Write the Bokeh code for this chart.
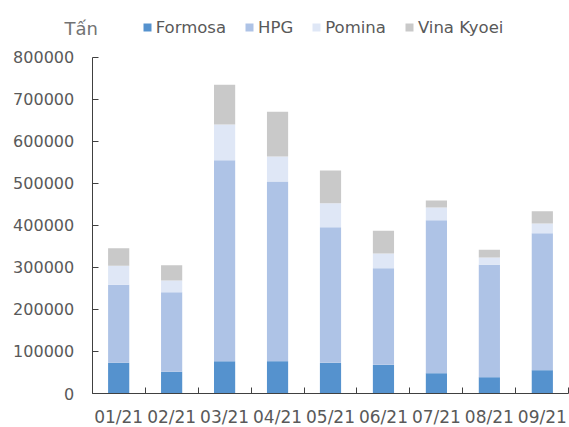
from bokeh.plotting import figure
from bokeh.models import (ColumnDataSource, Range1d, FixedTicker, NumeralTickFormatter,
                          Legend, LegendItem, Label, LinearAxis)
from bokeh.embed import file_html
from bokeh.resources import INLINE

months = ["01/21", "02/21", "03/21", "04/21", "05/21", "06/21", "07/21", "08/21", "09/21"]
formosa = [73000, 51600, 76900, 76900, 73000, 68200, 48300, 38800, 55500]
hpg = [185500, 189400, 477900, 427300, 322500, 229800, 363800, 267200, 325700]
pomina = [45200, 27700, 84900, 59400, 57100, 35000, 30200, 17400, 23100]
vina_kyoei = [41900, 36400, 94400, 106300, 77700, 53900, 16700, 18300, 29200]
series_names = ["Formosa", "HPG", "Pomina", "Vina Kyoei"]
y_ticks = [0, 100000, 200000, 300000, 400000, 500000, 600000, 700000, 800000]
unit_label = "Tấn"

colors = ["#5592CE", "#AEC3E6", "#DFE7F6", "#C9C9C9"]
FONT = "DejaVu Sans"
TXT = "#595959"
AX = "#404040"

W, H = 569, 427
n = len(months)
xpos = [i + 1 for i in range(n)]
src = ColumnDataSource(dict(x=xpos, Formosa=formosa, HPG=hpg, Pomina=pomina,
                            **{"Vina Kyoei": vina_kyoei}))

# frame fills the whole canvas; axes are pinned inside it with fixed_location
px_cat = (568.3 - 91.7) / n
px_val = (393 - 56.6) / 800000
x0 = 0.5 - 91.7 / px_cat
x1 = n + 0.5 + (W - 568.3) / px_cat
y1 = 393 / px_val
y0 = -(H - 393) / px_val

p = figure(width=W, height=H, output_backend="svg", toolbar_location=None,
           x_range=Range1d(x0, x1), y_range=Range1d(y0, y1),
           x_axis_type=None, y_axis_type=None, min_border=0,
           min_border_left=0, min_border_right=0, min_border_top=0, min_border_bottom=0)
p.outline_line_color = None
p.background_fill_color = "white"
p.border_fill_color = "white"

renderers = p.vbar_stack(series_names, x="x", width=0.4, source=src, color=colors,
                         line_color=None)

ya = LinearAxis(fixed_location=0.5, bounds=(0, 800000))
ya.ticker = FixedTicker(ticks=y_ticks)
ya.formatter = NumeralTickFormatter(format="0")
ya.major_tick_in = 6
ya.major_tick_out = 0
ya.minor_tick_line_color = None
ya.axis_line_color = AX
ya.major_tick_line_color = AX
ya.major_label_standoff = 18
ya.major_label_text_font = FONT
ya.major_label_text_font_size = "16px"
ya.major_label_text_color = TXT
p.add_layout(ya, "left")

xa = LinearAxis(fixed_location=0, bounds=(0.5, n + 0.5))
xa.ticker = FixedTicker(ticks=xpos, minor_ticks=[x - 0.5 for x in xpos] + [n + 0.5])
xa.major_label_overrides = {x: m for x, m in zip(xpos, months)}
xa.major_tick_line_color = None
xa.minor_tick_in = 6
xa.minor_tick_out = 0
xa.minor_tick_line_color = AX
xa.axis_line_color = AX
xa.major_label_standoff = 7
xa.major_label_text_font = FONT
xa.major_label_text_font_size = "17px"
xa.major_label_text_color = TXT
p.add_layout(xa, "below")

legend = Legend(items=[LegendItem(label=s, renderers=[r]) for s, r in zip(series_names, renderers)],
                orientation="horizontal", location=(141.7, H - 17 - 20),
                glyph_width=10, glyph_height=10, label_standoff=4, spacing=18,
                padding=0, margin=0, border_line_color=None, background_fill_alpha=0,
                label_text_font=FONT, label_text_font_size="16.5px", label_text_color=TXT,
                label_height=20)
p.add_layout(legend, "center")

p.add_layout(Label(x=64, y=H - 28, x_units="screen", y_units="screen", text=unit_label,
                   text_font=FONT, text_font_size="18px", text_color="#737373",
                   text_baseline="middle", text_align="left"))

open("out.html", "w").write(file_html(p, INLINE))
